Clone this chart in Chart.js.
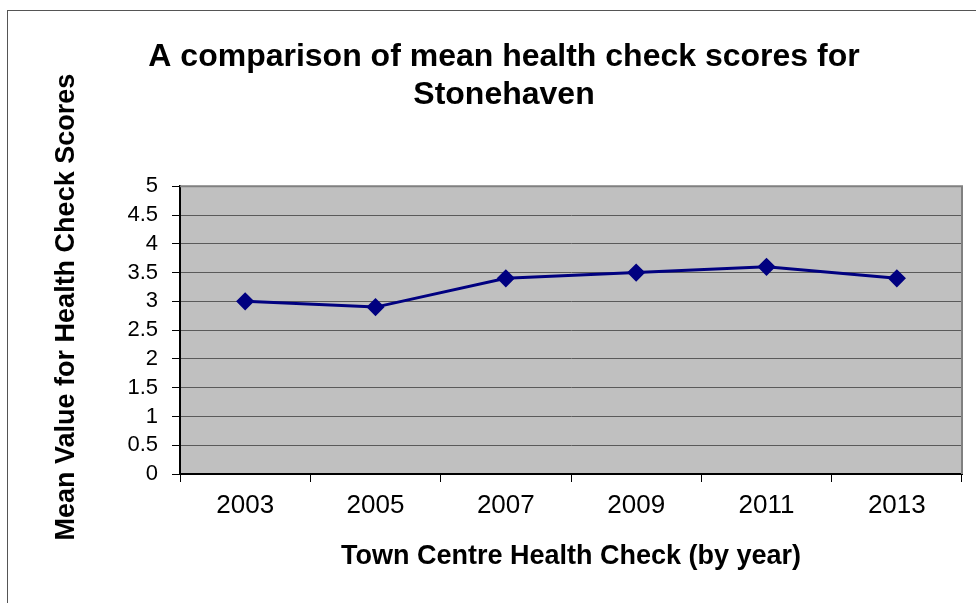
<!DOCTYPE html>
<html>
<head>
<meta charset="utf-8">
<script src="https://cdn.jsdelivr.net/npm/chart.js@4.4.1/dist/chart.umd.min.js"></script>
<style>
html,body{margin:0;padding:0;background:#fff;}
#wrap{width:976px;height:603px;position:relative;}
</style>
</head>
<body>
<div id="wrap"><canvas id="c" width="976" height="603"></canvas></div>
<script>
const years = ['2003', '2005', '2007', '2009', '2011', '2013'];
const meanScores = [3.0, 2.9, 3.4, 3.5, 3.6, 3.4];
const yTickValues = [0, 0.5, 1, 1.5, 2, 2.5, 3, 3.5, 4, 4.5, 5];
const yTickLabels = ['0', '0.5', '1', '1.5', '2', '2.5', '3', '3.5', '4', '4.5', '5'];
const titleLines = ['A comparison of mean health check scores for', 'Stonehaven'];
const xTitle = 'Town Centre Health Check (by year)';
const yTitle = 'Mean Value for Health Check Scores';

const FONT = "'Liberation Sans', Arial, sans-serif";

const plotBg = {
  id: 'plotBg',
  afterLayout(chart) {
    // shift main title centre to match the reference
    const tb = chart.titleBlock;
    if (tb) { tb.left += 23; tb.right += 23; }
    // y-axis title is centred slightly above the plot centre
    const ys = chart.scales.y;
    if (ys && !ys._patchedTitle) {
      ys._patchedTitle = true;
      const orig = ys.drawTitle.bind(ys);
      ys.drawTitle = function () {
        const t = this.top;
        this.top = t - 46;
        orig();
        this.top = t;
      };
    }
  },
  beforeDraw(chart) {
    const {ctx, chartArea: a} = chart;
    ctx.save();
    ctx.fillStyle = '#fff';
    ctx.fillRect(0, 0, chart.width, chart.height);
    ctx.strokeStyle = '#555';
    ctx.lineWidth = 1;
    ctx.strokeRect(7.5, 10.5, 1200, 1200);
    ctx.fillStyle = '#C0C0C0';
    ctx.fillRect(a.left, a.top, a.right - a.left, a.bottom - a.top);
    ctx.restore();
  },
  beforeDatasetsDraw(chart) {
    const {ctx, chartArea: a} = chart;
    ctx.save();
    ctx.strokeStyle = '#808080';
    ctx.lineWidth = 2;
    ctx.beginPath();
    ctx.moveTo(a.left, a.top);
    ctx.lineTo(a.right, a.top);
    ctx.lineTo(a.right, a.bottom);
    ctx.stroke();
    ctx.restore();
  }
};

new Chart(document.getElementById('c'), {
  type: 'line',
  data: {
    labels: years,
    datasets: [{
      data: meanScores,
      borderColor: '#000080',
      backgroundColor: '#000080',
      borderWidth: 3,
      pointStyle: 'rectRot',
      pointRadius: 7,
      pointBackgroundColor: '#000080',
      pointBorderColor: '#000080',
      tension: 0
    }]
  },
  options: {
    responsive: false,
    animation: false,
    devicePixelRatio: 1,
    layout: {padding: {left: 0, right: 14, top: 0, bottom: 0}},
    plugins: {
      legend: {display: false},
      tooltip: {enabled: false},
      title: {
        display: true,
        text: titleLines,
        color: '#000',
        font: {family: FONT, size: 32, weight: 'bold', lineHeight: 1.16},
        padding: {top: 39, bottom: 73}
      }
    },
    scales: {
      x: {
        type: 'category',
        offset: true,
        grid: {offset: true, drawOnChartArea: false, drawTicks: true, tickLength: 8, tickColor: '#000', lineWidth: 1},
        border: {color: '#000', width: 2},
        ticks: {color: '#000', font: {family: FONT, size: 26}, padding: 8, maxRotation: 0},
        title: {display: true, text: xTitle, color: '#000', font: {family: FONT, size: 27, weight: 'bold', lineHeight: 1.2}, padding: {top: 10, bottom: 30}},
        afterFit(scale) { scale.height = 129; }
      },
      y: {
        min: 0,
        max: 5,
        afterBuildTicks(scale) { scale.ticks = yTickValues.map(v => ({value: v})); },
        ticks: {
          autoSkip: false,
          color: '#000',
          font: {family: FONT, size: 22},
          padding: 14,
          callback: (v, i) => yTickLabels[i]
        },
        grid: {color: '#5a5a5a', lineWidth: 1, tickLength: 8, tickColor: '#000'},
        border: {color: '#000', width: 2},
        title: {display: true, text: yTitle, color: '#000', font: {family: FONT, size: 27, weight: 'bold', lineHeight: 1.2}, padding: {top: 50, bottom: 0}},
        afterFit(scale) { scale.width = 180; }
      }
    }
  },
  plugins: [plotBg]
});
</script>
</body>
</html>
